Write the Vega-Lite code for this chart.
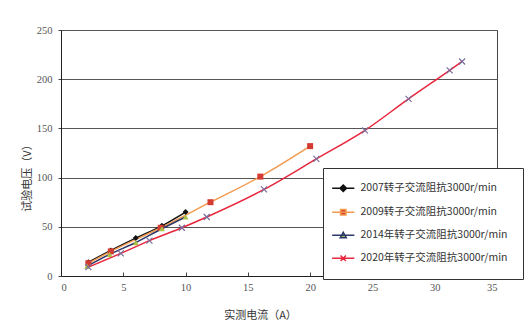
{
  "$schema": "https://vega.github.io/schema/vega-lite/v6.json",
  "width": 436,
  "height": 246,
  "autosize": {"type": "none"},
  "padding": {"left": 61, "top": 30, "right": 34, "bottom": 58},
  "background": "white",
  "config": {
    "view": {"stroke": "#444", "strokeWidth": 1},
    "axis": {"labelFont": "Liberation Serif", "labelFontSize": 10.5, "labelColor": "#555", "titleFont": "Noto Sans CJK SC", "titleFontSize": 11, "titleFontWeight": "normal", "titleColor": "#333", "domainColor": "#222", "tickColor": "#444", "gridColor": "#555", "gridOpacity": 1}
  },
  "data": {"values": [
    {"s": "2007转子交流阻抗3000r/min", "x": 2.2, "y": 14},
    {"s": "2007转子交流阻抗3000r/min", "x": 4, "y": 26},
    {"s": "2007转子交流阻抗3000r/min", "x": 6, "y": 38.5},
    {"s": "2007转子交流阻抗3000r/min", "x": 8.1, "y": 51},
    {"s": "2007转子交流阻抗3000r/min", "x": 10, "y": 65},
    {"s": "2009转子交流阻抗3000r/min", "x": 2.2, "y": 13},
    {"s": "2009转子交流阻抗3000r/min", "x": 4, "y": 25},
    {"s": "2009转子交流阻抗3000r/min", "x": 8, "y": 49},
    {"s": "2009转子交流阻抗3000r/min", "x": 12, "y": 75},
    {"s": "2009转子交流阻抗3000r/min", "x": 16, "y": 101},
    {"s": "2009转子交流阻抗3000r/min", "x": 20, "y": 132},
    {"s": "2014年转子交流阻抗3000r/min", "x": 2.1, "y": 10},
    {"s": "2014年转子交流阻抗3000r/min", "x": 3.9, "y": 22},
    {"s": "2014年转子交流阻抗3000r/min", "x": 6, "y": 34},
    {"s": "2014年转子交流阻抗3000r/min", "x": 8.1, "y": 48},
    {"s": "2014年转子交流阻抗3000r/min", "x": 10, "y": 60},
    {"s": "2020年转子交流阻抗3000r/min", "x": 2.2, "y": 9},
    {"s": "2020年转子交流阻抗3000r/min", "x": 4.8, "y": 23},
    {"s": "2020年转子交流阻抗3000r/min", "x": 7.1, "y": 36},
    {"s": "2020年转子交流阻抗3000r/min", "x": 9.7, "y": 49},
    {"s": "2020年转子交流阻抗3000r/min", "x": 11.7, "y": 60},
    {"s": "2020年转子交流阻抗3000r/min", "x": 16.3, "y": 88},
    {"s": "2020年转子交流阻抗3000r/min", "x": 20.5, "y": 119},
    {"s": "2020年转子交流阻抗3000r/min", "x": 24.4, "y": 148},
    {"s": "2020年转子交流阻抗3000r/min", "x": 27.9, "y": 180},
    {"s": "2020年转子交流阻抗3000r/min", "x": 31.2, "y": 209},
    {"s": "2020年转子交流阻抗3000r/min", "x": 32.2, "y": 218}
  ]},
  "encoding": {
    "x": {"field": "x", "type": "quantitative", "scale": {"domain": [0, 35], "nice": false},
      "axis": {"title": "实测电流（A）", "values": [0, 5, 10, 15, 20, 25, 30, 35], "grid": false, "tickSize": -4, "labelPadding": 10, "titlePadding": 17, "titleX": 199}},
    "y": {"field": "y", "type": "quantitative", "scale": {"domain": [0, 250], "nice": false},
      "axis": {"title": "试验电压（V）", "values": [0, 50, 100, 150, 200, 250], "grid": true, "tickSize": 3, "labelPadding": 6, "titlePadding": 4, "titleY": 145}}
  },
  "layer": [
    {
      "mark": {"type": "line", "interpolate": "monotone", "strokeWidth": 1.5},
      "encoding": {
        "stroke": {"field": "s", "type": "nominal",
          "scale": {"domain": ["2007转子交流阻抗3000r/min", "2009转子交流阻抗3000r/min", "2014年转子交流阻抗3000r/min", "2020年转子交流阻抗3000r/min"],
                    "range": ["#111111", "#f39a4e", "#2b3768", "#e8263c"]},
          "legend": {
            "title": null, "orient": "none", "legendX": 262, "legendY": 138,
            "direction": "vertical",
            "strokeColor": "#333", "fillColor": "white", "padding": 15,
            "labelFont": "Noto Sans CJK SC", "labelFontSize": 10.5, "labelColor": "#333",
            "labelOffset": 12, "rowPadding": 11, "symbolSize": 36,
            "encode": {"symbols": {"update": {
              "shape": {"signal": "['M-3.7,0H3.7M0,-1.1L1.1,0L0,1.1L-1.1,0Z', 'M-3.7,0H3.7M-0.9,-0.9H0.9V0.9H-0.9Z', 'M-3.7,0H3.7M0,-1L1,0.8H-1Z', 'M-3.7,0H3.7M-0.9,-0.9L0.9,0.9M-0.9,0.9L0.9,-0.9'][datum.index]"},
              "fill": {"signal": "['#111111', '#d33a32', '#a9c044', 'transparent'][datum.index]"},
              "stroke": {"signal": "['#111111', '#e0343a', '#2b3768', '#e8263c'][datum.index]"},
              "strokeWidth": {"value": 1.5},
              "opacity": {"value": 1}
            }}}
          }}
      }
    },
    {
      "transform": [{"filter": "indexof(datum.s, '2020') < 0"}],
      "mark": {"type": "point", "filled": true, "size": 36, "opacity": 1},
      "encoding": {
        "shape": {"field": "s", "type": "nominal", "legend": null,
          "scale": {"domain": ["2007转子交流阻抗3000r/min", "2009转子交流阻抗3000r/min", "2014年转子交流阻抗3000r/min"],
                    "range": ["diamond", "square", "triangle-up"]}},
        "fill": {"field": "s", "type": "nominal", "legend": null,
          "scale": {"domain": ["2007转子交流阻抗3000r/min", "2009转子交流阻抗3000r/min", "2014年转子交流阻抗3000r/min"],
                    "range": ["#111111", "#d33a32", "#a9c044"]}}
      }
    },
    {
      "transform": [{"filter": "indexof(datum.s, '2020') >= 0"}],
      "mark": {"type": "point", "filled": false, "shape": "M-1,-1L1,1M-1,1L1,-1", "size": 36, "stroke": "#7a6d9c", "strokeWidth": 1.2, "opacity": 1},
      "encoding": {}
    }
  ]
}
